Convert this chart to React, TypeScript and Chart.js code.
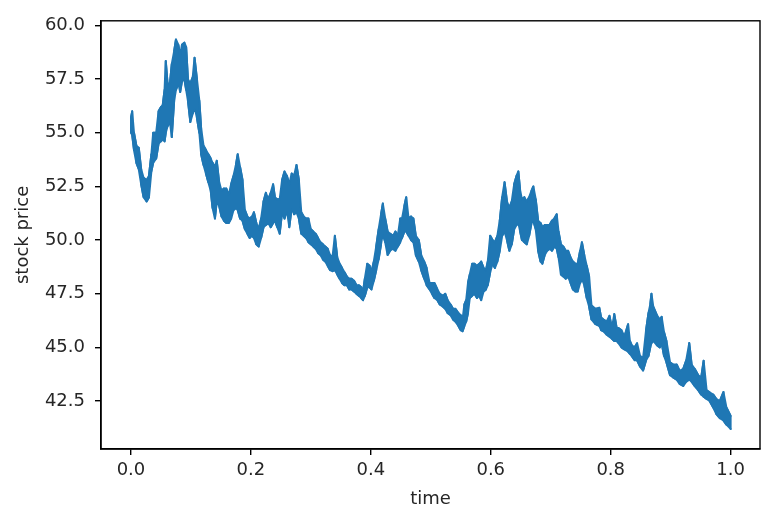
import React, { useEffect, useRef } from "react";
import { Chart, registerables } from "chart.js";

Chart.register(...registerables);

// Sample times and the lower / upper edge of the (very noisy) price path at each time,
// read from the reference picture.
const times = [
  0.000, 0.002, 0.005, 0.009, 0.013, 0.017, 0.021, 0.026, 0.030, 0.034,
  0.037, 0.042, 0.046, 0.050, 0.053, 0.056, 0.058, 0.061, 0.065, 0.068,
  0.072, 0.075, 0.079, 0.082, 0.085, 0.089, 0.092, 0.095, 0.099, 0.103,
  0.106, 0.110, 0.114, 0.117, 0.121, 0.125, 0.129, 0.133, 0.136, 0.140,
  0.143, 0.147, 0.151, 0.155, 0.159, 0.163, 0.167, 0.171, 0.175, 0.178,
  0.182, 0.186, 0.190, 0.194, 0.198, 0.202, 0.205, 0.209, 0.213, 0.217,
  0.221, 0.225, 0.229, 0.233, 0.237, 0.240, 0.244, 0.248, 0.252, 0.256,
  0.260, 0.264, 0.268, 0.272, 0.276, 0.280, 0.284, 0.288, 0.292, 0.296,
  0.300, 0.304, 0.308, 0.312, 0.316, 0.320, 0.324, 0.328, 0.332, 0.336,
  0.340, 0.344, 0.348, 0.352, 0.356, 0.360, 0.364, 0.368, 0.372, 0.376,
  0.380, 0.384, 0.387, 0.390, 0.394, 0.398, 0.401, 0.405, 0.409, 0.413,
  0.417, 0.420, 0.424, 0.428, 0.432, 0.437, 0.441, 0.445, 0.449, 0.452,
  0.456, 0.459, 0.463, 0.467, 0.471, 0.475, 0.480, 0.484, 0.489, 0.493,
  0.498, 0.502, 0.506, 0.511, 0.515, 0.520, 0.524, 0.528, 0.533, 0.537,
  0.541, 0.546, 0.550, 0.553, 0.556, 0.559, 0.562, 0.565, 0.569, 0.573,
  0.577, 0.581, 0.584, 0.588, 0.592, 0.595, 0.599, 0.603, 0.607, 0.611,
  0.615, 0.619, 0.623, 0.627, 0.631, 0.635, 0.639, 0.643, 0.646, 0.649,
  0.652, 0.656, 0.660, 0.664, 0.668, 0.671, 0.675, 0.679, 0.683, 0.686,
  0.690, 0.694, 0.698, 0.702, 0.706, 0.710, 0.713, 0.717, 0.721, 0.725,
  0.729, 0.733, 0.737, 0.741, 0.745, 0.749, 0.752, 0.756, 0.760, 0.764,
  0.768, 0.774, 0.781, 0.784, 0.788, 0.793, 0.798, 0.802, 0.806, 0.810,
  0.813, 0.818, 0.823, 0.829, 0.832, 0.835, 0.840, 0.844, 0.849, 0.854,
  0.859, 0.863, 0.866, 0.868, 0.871, 0.877, 0.882, 0.885, 0.889, 0.893,
  0.899, 0.904, 0.910, 0.915, 0.921, 0.926, 0.931, 0.935, 0.940, 0.946,
  0.951, 0.955, 0.960, 0.965, 0.971, 0.976, 0.982, 0.988, 0.993, 1.000,
];

const lowPrices = [
  55.0, 54.9, 54.2, 53.6, 53.3, 52.6, 52.0, 51.8, 52.0, 53.2,
  53.6, 53.8, 54.5, 54.6, 54.7, 54.6, 55.0, 55.3, 55.5, 54.8,
  56.5, 57.0, 57.3, 56.9, 57.4, 57.5, 57.0, 56.5, 55.5, 55.9,
  56.2, 55.7, 55.0, 54.0, 53.5, 53.1, 52.7, 52.3, 51.5, 51.0,
  51.8, 51.6, 51.1, 50.9, 50.8, 50.8, 51.0, 51.4, 51.5, 51.4,
  51.0, 50.9, 50.5, 50.3, 50.1, 50.2, 50.1, 49.8, 49.7, 50.1,
  50.6, 50.7, 50.8, 50.6, 50.8, 50.9, 50.6, 50.3, 51.3, 51.0,
  51.4, 50.6, 51.5, 51.2, 51.3, 51.0, 50.3, 50.2, 50.1, 49.9,
  49.8, 49.7, 49.6, 49.4, 49.3, 49.1, 49.0, 48.8, 48.6, 48.55,
  48.6, 48.4, 48.2, 48.0, 47.9, 47.9, 47.7, 47.7, 47.6, 47.5,
  47.4, 47.3, 47.2, 47.4, 47.8, 47.8, 47.7, 48.1, 48.6, 49.1,
  49.8, 50.3, 49.9, 49.3, 49.5, 49.6, 49.5, 49.7, 49.9, 50.1,
  50.4, 50.4, 50.2, 50.0, 49.9, 49.3, 49.0, 48.6, 48.2, 47.9,
  47.7, 47.5, 47.3, 47.2, 47.0, 46.9, 46.8, 46.6, 46.5, 46.3,
  46.2, 46.0, 45.8, 45.75, 46.0, 46.2, 46.6, 47.3, 47.4, 47.5,
  47.3, 47.4, 47.2, 47.6, 47.7, 47.9, 48.5, 48.9, 48.7, 49.0,
  49.5, 50.2, 50.4, 50.0, 49.5, 49.8, 50.5, 50.7, 50.8, 50.4,
  50.0, 49.9, 49.8, 50.2, 50.8, 50.9, 50.5, 49.5, 49.0, 48.9,
  49.3, 49.5, 49.6, 49.5, 49.7, 49.6, 49.2, 48.4, 48.3, 48.2,
  48.3, 48.0, 47.7, 47.6, 47.6, 48.0, 48.2, 47.9, 47.3, 46.9,
  46.3, 46.1, 46.0, 45.8, 45.75, 45.6, 45.5, 45.4, 45.3, 45.3,
  45.2, 45.0, 44.9, 44.8, 44.7, 44.6, 44.4, 44.4, 44.1, 43.92,
  44.4, 44.6, 45.0, 45.2, 45.3, 45.1, 45.0, 45.2, 44.6, 44.3,
  43.7, 43.6, 43.5, 43.3, 43.2, 43.4, 43.5, 43.4, 43.2, 43.0,
  42.8, 42.7, 42.6, 42.5, 42.2, 41.9, 41.7, 41.6, 41.4, 41.2,
];

const highPrices = [
  55.7, 56.0, 55.0, 54.4, 54.3, 53.3, 52.9, 52.8, 53.0, 54.0,
  55.0, 55.0, 56.0, 56.2, 56.3, 57.0, 58.35, 57.3, 57.3, 58.2,
  58.8, 59.35, 59.1, 58.6, 59.1, 59.2, 59.0, 57.5, 57.3, 57.6,
  58.5, 57.5, 56.5, 55.2, 54.4, 54.2, 54.0, 53.8, 53.6, 53.4,
  53.7, 52.7, 52.3, 52.4, 52.4, 52.1, 52.6, 53.0, 53.5, 54.0,
  53.4, 52.8, 51.4, 51.1, 51.0, 51.1, 51.3, 50.8, 50.5, 51.0,
  51.8, 52.2, 51.9, 52.2, 52.6, 52.0, 51.9, 51.9, 52.8, 53.2,
  53.0, 52.6, 53.1, 53.0, 53.5, 52.8, 51.3, 51.1, 51.0, 51.0,
  50.5, 50.4, 50.3, 50.1, 49.9, 49.8, 49.7, 49.6, 49.3, 49.2,
  50.2, 49.2, 48.9, 48.7, 48.5, 48.3, 48.2, 48.2, 48.1, 47.9,
  47.9, 47.8, 47.6, 48.2, 48.9, 48.8, 48.5, 49.0, 49.7, 50.5,
  51.2, 51.7, 51.0, 50.4, 50.3, 50.2, 50.4, 50.2, 51.0, 51.0,
  51.6, 52.0, 51.0, 51.1, 51.0, 50.2, 50.0, 49.3, 49.0, 48.7,
  48.0, 48.0, 48.0, 47.7, 47.5, 47.4, 47.5, 47.2, 47.0, 46.8,
  46.8, 46.6, 46.5, 46.3, 47.0, 47.2, 48.0, 48.4, 48.9, 48.9,
  48.8, 48.9, 49.0, 48.7, 48.6, 49.0, 50.2, 50.0, 49.9, 50.2,
  50.9, 52.0, 52.7, 51.8, 51.5, 51.8, 52.6, 53.0, 53.2, 52.3,
  51.9, 52.0, 51.8, 52.0, 52.3, 52.5, 51.9, 50.9, 50.8, 50.6,
  50.7, 50.7, 50.7, 50.9, 51.0, 51.2, 50.4, 49.8, 49.7, 49.5,
  49.5, 49.2, 49.0, 48.9, 48.9, 49.5, 49.9, 49.3, 48.8, 48.3,
  46.95, 46.8, 46.85, 46.4, 46.3, 46.2, 46.47, 45.9, 46.55, 45.9,
  45.9, 45.8, 45.5, 46.08, 45.3, 45.1, 45.0, 45.19, 44.6, 44.5,
  45.8, 46.6, 47.0, 47.5, 46.9, 46.5, 46.3, 46.42, 45.7, 45.3,
  44.3, 44.2, 44.2, 43.9, 44.0, 44.4, 45.2, 44.2, 44.0, 43.7,
  43.6, 44.38, 43.0, 42.9, 42.8, 42.6, 42.5, 42.92, 42.2, 41.8,
];

const xTicks = [0.0, 0.2, 0.4, 0.6, 0.8, 1.0];
const yTicks = [42.5, 45.0, 47.5, 50.0, 52.5, 55.0, 57.5, 60.0];
const xLabel = "time";
const yLabel = "stock price";

const FONT = "'DejaVu Sans', sans-serif";
const TEXT = "#262626";
const BLUE = "#1f77b4";

// Zig-zag through the lower and upper edge, like the dense random-walk trace.
function zigzagSeries() {
  const pts: { x: number; y: number }[] = [];
  times.forEach((t, i) => {
    const lo = { x: t, y: lowPrices[i] };
    const hi = { x: t, y: highPrices[i] };
    if (i % 2 === 0) pts.push(lo, hi);
    else pts.push(hi, lo);
  });
  return pts;
}

const edge = (vals: number[]) => times.map((t, i) => ({ x: t, y: vals[i] }));

const framePlugin = {
  id: "frame",
  afterDraw(chart: any) {
    const { ctx, chartArea: a } = chart;
    ctx.save();
    ctx.strokeStyle = "#000";
    ctx.lineWidth = 1.4;
    ctx.strokeRect(a.left, a.top, a.right - a.left, a.bottom - a.top);
    ctx.restore();
  },
};

export default function App() {
  const ref = useRef<HTMLCanvasElement | null>(null);

  useEffect(() => {
    if (!ref.current) return;
    const lineStyle = {
      borderColor: BLUE,
      pointRadius: 0,
      tension: 0,
      borderJoinStyle: "round",
      borderCapStyle: "round",
    };
    const chart = new Chart(ref.current, {
      type: "line",
      data: {
        datasets: [
          {
            ...lineStyle,
            data: edge(highPrices),
            borderWidth: 2,
            fill: "+1",
            backgroundColor: BLUE,
          },
          {
            ...lineStyle,
            data: edge(lowPrices),
            borderWidth: 2,
            fill: false,
          },
          {
            ...lineStyle,
            data: zigzagSeries(),
            borderWidth: 2,
            fill: false,
          },
        ],
      },
      options: {
        animation: false,
        responsive: false,
        devicePixelRatio: 1,
        layout: { padding: { top: 18, right: 13, left: 0, bottom: 0 } },
        plugins: {
          legend: { display: false },
          tooltip: { enabled: false },
        },
        scales: {
          x: {
            type: "linear",
            min: -0.05,
            max: 1.049,
            afterBuildTicks: (s: any) => {
              s.ticks = xTicks.map((v) => ({ value: v }));
            },
            afterFit: (s: any) => {
              s.height = 74;
            },
            ticks: {
              callback: (v: any) => Number(v).toFixed(1),
              font: { family: FONT, size: 18 },
              color: TEXT,
              padding: 5,
              maxRotation: 0,
              autoSkip: false,
            },
            grid: {
              drawOnChartArea: false,
              drawTicks: true,
              tickLength: 6,
              color: "#000",
              lineWidth: 1.4,
            },
            border: { display: true, color: "#000", width: 1.4 },
            title: {
              display: true,
              text: xLabel,
              font: { family: FONT, size: 18 },
              color: TEXT,
              padding: { top: 0, bottom: 13 },
            },
          },
          y: {
            type: "linear",
            min: 40.264,
            max: 60.218,
            afterBuildTicks: (s: any) => {
              s.ticks = yTicks.map((v) => ({ value: v }));
            },
            afterFit: (s: any) => {
              s.width = 101;
            },
            ticks: {
              callback: (v: any) => Number(v).toFixed(1),
              font: { family: FONT, size: 18 },
              color: TEXT,
              padding: 10,
              autoSkip: false,
            },
            grid: {
              drawOnChartArea: false,
              drawTicks: true,
              tickLength: 6,
              color: "#000",
              lineWidth: 1.4,
            },
            border: { display: true, color: "#000", width: 1.4 },
            title: {
              display: true,
              text: yLabel,
              font: { family: FONT, size: 18 },
              color: TEXT,
              padding: { top: 12.5, bottom: 0 },
            },
          },
        },
      },
      plugins: [framePlugin],
    } as any);
    return () => chart.destroy();
  }, []);

  return (
    <div style={{ position: "absolute", left: 0, top: 0, width: 773, height: 523, background: "#fff" }}>
      <canvas ref={ref} width={773} height={523} style={{ display: "block" }} />
    </div>
  );
}
